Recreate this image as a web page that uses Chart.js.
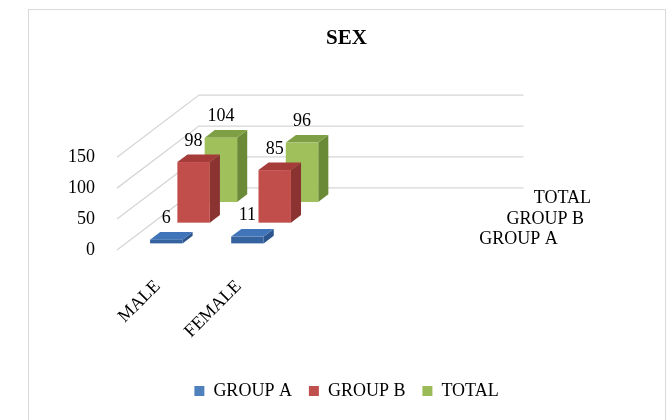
<!DOCTYPE html>
<html>
<head>
<meta charset="utf-8">
<script src="https://cdn.jsdelivr.net/npm/chart.js@4"></script>
<style>
  html, body { margin: 0; padding: 0; background: #fff; overflow: hidden; }
  #frame { position: absolute; left: 28px; top: 9px; width: 638px; height: 430px; border: 1px solid #d9d9d9; box-sizing: border-box; }
  #chartBox { position: absolute; left: 0; top: 0; width: 636px; height: 410px; }
</style>
</head>
<body>
<div id="frame"><div id="chartBox"><canvas id="sexChart"></canvas></div></div>
<script>
const categories = ['MALE', 'FEMALE'];
const seriesNames = ['GROUP A', 'GROUP B', 'TOTAL'];
const groupA = [6, 11];
const groupB = [98, 85];
const total = [104, 96];
const yTicks = [0, 50, 100, 150];

// face colours: legend / front / top / side
const palette = [
    { base: '#4f81bd', front: '#3563a0', top: '#4075ba', side: '#2b558c' },
    { base: '#c0504d', front: '#c24e4b', top: '#a53c3a', side: '#8a3331' },
    { base: '#9bbb59', front: '#a0c05c', top: '#7f9f45', side: '#6b8a37' }
];

// fake 3d: one series slot along the depth axis, in pixels
const depthStep = { x: 27.3, y: -20.7 };
const barFront = 0.32;   // where the bar starts inside its slot
const barDepth = 0.37;   // bar thickness along depth
const wallEnd = 3.5;     // right edge of floor / back wall (x units)
const labelFont = "18px 'Liberation Serif', 'Times New Roman', serif";

Chart.defaults.font.family = "'Liberation Serif', 'Times New Roman', serif";
Chart.defaults.color = '#000';

const bar3d = {
    id: 'bar3d',
    beforeDatasetsDraw(chart) {
        const { ctx, scales: { x, y } } = chart;
        const n = seriesNames.length;
        const dx = depthStep.x * n, dy = depthStep.y * n;
        const left = x.getPixelForValue(x.min);
        const right = x.getPixelForValue(wallEnd);
        ctx.save();
        ctx.strokeStyle = '#d6d6d6';
        ctx.lineWidth = 1.3;
        yTicks.forEach(v => {
            const py = y.getPixelForValue(v);
            ctx.beginPath();
            ctx.moveTo(left, py);
            ctx.lineTo(left + dx, py + dy);
            ctx.lineTo(right + dx, py + dy);
            ctx.stroke();
        });
        // depth axis labels along the right edge of the floor
        const base = y.getPixelForValue(0);
        ctx.font = labelFont;
        ctx.fillStyle = '#000';
        ctx.textAlign = 'left';
        ctx.textBaseline = 'middle';
        seriesNames.forEach((name, k) => {
            ctx.fillText(name, right + (k + 0.5) * depthStep.x + 24, base + (k + 0.5) * depthStep.y);
        });
        ctx.restore();
    },
    beforeDatasetDraw() {
        return false;
    },
    afterDatasetsDraw(chart) {
        const { ctx } = chart;
        const labels = [];
        ctx.save();
        for (let k = chart.data.datasets.length - 1; k >= 0; k--) {
            const meta = chart.getDatasetMeta(k);
            const c = palette[k];
            const ox = (k + barFront) * depthStep.x, oy = (k + barFront) * depthStep.y;
            const ddx = barDepth * depthStep.x, ddy = barDepth * depthStep.y;
            meta.data.forEach((el, i) => {
                const x0 = el.x - el.width / 2 + ox, x1 = el.x + el.width / 2 + ox;
                const top = el.y + oy, bot = el.base + oy;
                // side
                ctx.fillStyle = c.side;
                ctx.beginPath();
                ctx.moveTo(x1, top); ctx.lineTo(x1 + ddx, top + ddy);
                ctx.lineTo(x1 + ddx, bot + ddy); ctx.lineTo(x1, bot);
                ctx.closePath(); ctx.fill();
                // top
                ctx.fillStyle = c.top;
                ctx.beginPath();
                ctx.moveTo(x0, top); ctx.lineTo(x1, top);
                ctx.lineTo(x1 + ddx, top + ddy); ctx.lineTo(x0 + ddx, top + ddy);
                ctx.closePath(); ctx.fill();
                // front
                ctx.fillStyle = c.front;
                ctx.fillRect(x0, top, x1 - x0, bot - top);
                labels.push({ text: String(chart.data.datasets[k].data[i].y), x: (x0 + x1) / 2, y: top - 21 });
            });
        }
        ctx.font = labelFont;
        ctx.fillStyle = '#000';
        ctx.textAlign = 'center';
        ctx.textBaseline = 'middle';
        labels.forEach(l => ctx.fillText(l.text, l.x, l.y));
        ctx.restore();
    }
};

const seriesValues = [groupA, groupB, total];

new Chart(document.getElementById('sexChart'), {
    type: 'bar',
    data: {
        datasets: seriesNames.map((name, k) => ({
            label: name,
            data: seriesValues[k].map((v, i) => ({ x: i, y: v })),
            backgroundColor: palette[k].base,
            borderWidth: 0,
            grouped: false,
            categoryPercentage: 1,
            barPercentage: 0.4
        }))
    },
    options: {
        responsive: true,
        maintainAspectRatio: false,
        animation: false,
        layout: { padding: { left: 40, right: 41, top: 0, bottom: 10 } },
        scales: {
            x: {
                type: 'linear',
                min: -0.5,
                max: 5.75,
                offset: false,
                bounds: 'data',
                grid: { display: false, drawTicks: true, tickLength: 22, offset: false },
                border: { display: false },
                afterBuildTicks: axis => { axis.ticks = categories.map((c, i) => ({ value: i })); },
                afterFit: scale => {
                    scale.height = 115;
                    scale.paddingLeft = 0;
                    scale.paddingRight = 0;
                },
                ticks: {
                    callback: v => categories[v],
                    minRotation: 45,
                    maxRotation: 45,
                    padding: 4,
                    font: { size: 18 }
                }
            },
            y: {
                min: 0,
                max: 150,
                grid: { display: false, drawTicks: false },
                border: { display: false },
                afterFit: scale => { scale.width = 48; },
                ticks: { stepSize: 50, padding: 22, font: { size: 18 } }
            }
        },
        plugins: {
            title: {
                display: true,
                text: 'SEX',
                font: { size: 21, weight: 'bold' },
                padding: { top: 16, bottom: 106 }
            },
            legend: {
                position: 'bottom',
                labels: { boxWidth: 10, boxHeight: 10, padding: 17, font: { size: 18 } }
            },
            tooltip: { enabled: false }
        }
    },
    plugins: [bar3d]
});
</script>
</body>
</html>
